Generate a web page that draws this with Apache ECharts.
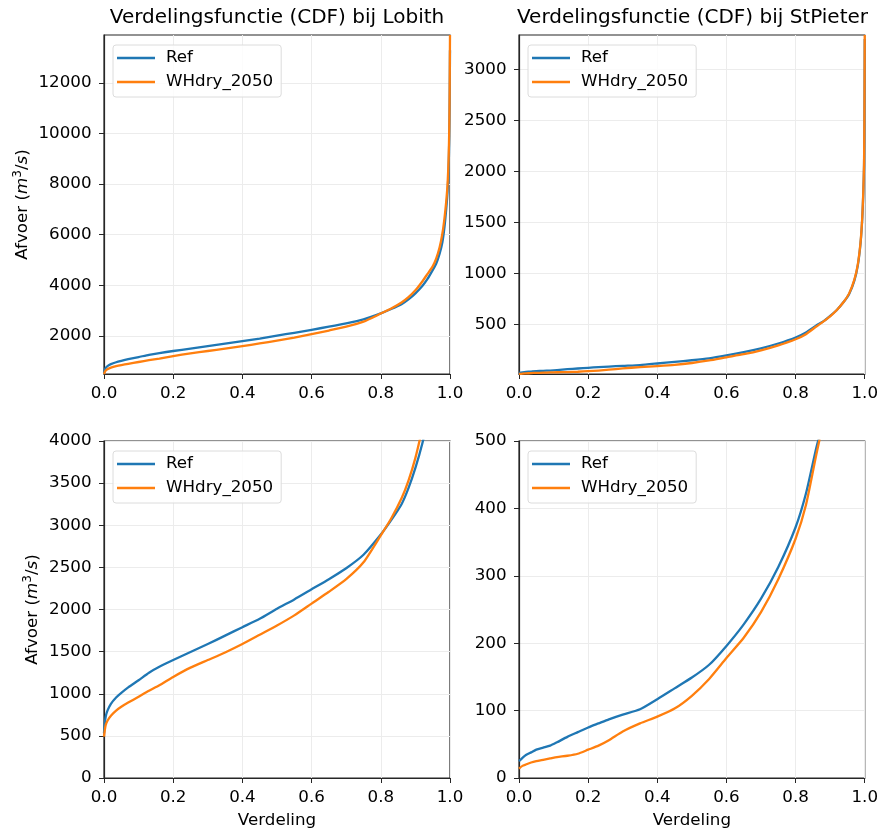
<!DOCTYPE html>
<html>
<head>
<meta charset="utf-8">
<script src="https://cdn.jsdelivr.net/npm/echarts@6/dist/echarts.min.js"></script>
<style>
html,body{margin:0;padding:0;background:#fff;}
#chart{width:881px;height:832px;}
</style>
</head>
<body>
<div id="chart"></div>
<script>
// ---- Data ----
const seriesNames = ['Ref', 'WHdry_2050'];
const titles = ['Verdelingsfunctie (CDF) bij Lobith', 'Verdelingsfunctie (CDF) bij StPieter'];

const lobithP = [0, 0.002, 0.005, 0.01, 0.02, 0.035, 0.05, 0.07, 0.1, 0.13, 0.16, 0.2, 0.25, 0.3, 0.35, 0.4, 0.45, 0.5, 0.55, 0.6, 0.65, 0.7, 0.75, 0.8, 0.83, 0.86, 0.88, 0.9, 0.92, 0.935, 0.95, 0.96, 0.97, 0.978, 0.984, 0.989, 0.993, 0.996, 0.998, 0.999, 1.0];
const lobithRefQ = [533, 640, 730, 800, 880, 955, 1010, 1075, 1160, 1250, 1320, 1400, 1495, 1590, 1690, 1790, 1890, 2010, 2120, 2240, 2360, 2490, 2650, 2890, 3060, 3250, 3440, 3680, 3970, 4250, 4600, 4850, 5250, 5700, 6300, 7000, 7700, 8600, 9900, 11200, 13300];
const lobithWhQ = [490, 560, 630, 680, 740, 800, 845, 895, 965, 1035, 1100, 1200, 1310, 1400, 1490, 1590, 1700, 1810, 1930, 2070, 2210, 2360, 2560, 2880, 3080, 3320, 3530, 3800, 4150, 4450, 4750, 5050, 5500, 6050, 6650, 7300, 8000, 9000, 10300, 11700, 13900];

const stpieterP = [0, 0.01, 0.02, 0.035, 0.05, 0.07, 0.09, 0.11, 0.14, 0.17, 0.2, 0.23, 0.26, 0.3, 0.35, 0.4, 0.45, 0.5, 0.55, 0.6, 0.65, 0.7, 0.75, 0.8, 0.83, 0.86, 0.88, 0.9, 0.92, 0.94, 0.955, 0.97, 0.98, 0.988, 0.993, 0.996, 0.998, 0.999, 1.0];
const stpieterRefQ = [25, 30, 34, 38, 42, 45, 48, 53, 61, 68, 75, 81, 87, 94, 102, 117, 133, 149, 168, 196, 228, 266, 313, 372, 422, 490, 530, 585, 645, 725, 800, 930, 1080, 1300, 1550, 1800, 2050, 2450, 3300];
const stpieterWhQ = [14, 18, 20, 23, 25, 27, 29, 31, 33, 36, 42, 48, 56, 69, 81, 91, 103, 122, 147, 178, 208, 246, 295, 355, 405, 480, 528, 580, 645, 725, 805, 940, 1090, 1310, 1560, 1820, 2080, 2500, 3340];

const xTicks = [0, 0.2, 0.4, 0.6, 0.8, 1.0];
const lobithTopTicks = [2000, 4000, 6000, 8000, 10000, 12000];
const stpieterTopTicks = [500, 1000, 1500, 2000, 2500, 3000];
const lobithBottomTicks = [0, 500, 1000, 1500, 2000, 2500, 3000, 3500, 4000];
const stpieterBottomTicks = [0, 100, 200, 300, 400, 500];

// ---- Build ----
const FONT = 'DejaVu Sans';
const FS = 16.7;
const colors = ['#1f77b4', '#ff7f0e'];
const zip = (p, q) => p.map((v, i) => [v, q[i]]);

const grids = [
  {left: 104, top: 35, width: 346, height: 339},
  {left: 519, top: 35, width: 347, height: 339},
  {left: 104, top: 441, width: 346, height: 337},
  {left: 519, top: 441, width: 347, height: 337}
];

const frameColor = '#262626';
const gridLine = {show: true, lineStyle: {color: '#ececec', width: 1}};

function xAxisFor(i) {
  const bottom = i >= 2;
  return {
    type: 'value', gridIndex: i, min: xTicks[0], max: xTicks[xTicks.length - 1],
    interval: xTicks[1] - xTicks[0],
    name: bottom ? 'Verdeling' : '', nameLocation: 'middle', nameGap: 34,
    nameTextStyle: {fontFamily: FONT, fontSize: FS, color: '#000'},
    axisLine: {show: true, onZero: false, lineStyle: {color: frameColor, width: 1.2}},
    axisTick: {show: true, length: 5, lineStyle: {color: frameColor, width: 1}},
    axisLabel: {fontFamily: FONT, fontSize: FS, color: '#000', margin: 11,
      formatter: v => v.toFixed(1)},
    splitLine: gridLine
  };
}

const yAxisName = 'Afvoer ({i|m}{s|3}{a|/}{i|s}{a|)}';
const yRich = {
  a: {fontFamily: FONT, fontSize: FS, color: '#000'},
  i: {fontFamily: FONT, fontSize: FS, fontStyle: 'italic', color: '#000'},
  s: {fontFamily: FONT, fontSize: 12, color: '#000', padding: [0, 0, 9, 0]}
};

function yAxisFor(i) {
  const left = (i % 2) === 0;
  const base = {
    type: 'value', gridIndex: i,
    name: left ? yAxisName : '', nameLocation: 'middle', nameRotate: 90,
    nameGap: i === 0 ? 71 : 61,
    nameTextStyle: {fontFamily: FONT, fontSize: FS, color: '#000', rich: yRich},
    axisLine: {show: true, onZero: false, lineStyle: {color: frameColor, width: 1.2}},
    axisTick: {show: true, length: 5, lineStyle: {color: frameColor, width: 1}},
    axisLabel: {fontFamily: FONT, fontSize: FS, color: '#000', margin: 12.5,
      formatter: v => String(v)},
    splitLine: gridLine
  };
  if (i === 0 || i === 1) {
    const ticks = i === 0 ? lobithTopTicks : stpieterTopTicks;
    const step = ticks[1] - ticks[0];
    base.min = 'dataMin';
    base.max = 'dataMax';
    base.minInterval = step;
    base.maxInterval = step;
    base.axisLabel.customValues = ticks;
    base.axisTick.customValues = ticks;
  } else {
    const ticks = i === 2 ? lobithBottomTicks : stpieterBottomTicks;
    base.min = ticks[0];
    base.max = ticks[ticks.length - 1];
    base.interval = ticks[1] - ticks[0];
  }
  return base;
}

const panelData = [
  [zip(lobithP, lobithRefQ), zip(lobithP, lobithWhQ)],
  [zip(stpieterP, stpieterRefQ), zip(stpieterP, stpieterWhQ)],
  [zip(lobithP, lobithRefQ), zip(lobithP, lobithWhQ)],
  [zip(stpieterP, stpieterRefQ), zip(stpieterP, stpieterWhQ)]
];

const series = [];
panelData.forEach((pair, i) => {
  pair.forEach((data, k) => {
    series.push({
      type: 'line', name: seriesNames[k], xAxisIndex: i, yAxisIndex: i,
      data: data, symbol: 'none', showSymbol: false, clip: true,
      smooth: 0.2,
      color: colors[k],
      lineStyle: {color: colors[k], width: 2.3, join: 'round'},
      animation: false
    });
  });
});

const legends = grids.map(g => ({
  orient: 'vertical', left: g.left + 9, top: g.top + 10,
  data: seriesNames,
  icon: 'rect',
  backgroundColor: 'rgba(255,255,255,0.85)',
  borderColor: '#dcdcdc', borderWidth: 1, borderRadius: 3,
  padding: [4, 8, 6, 4],
  itemWidth: 38, itemHeight: 2.4, itemGap: 6,
  textStyle: {fontFamily: FONT, fontSize: FS, color: '#000', lineHeight: 18, padding: [0, 0, 0, 6]}
}));

const graphic = titles.map((t, i) => ({
  type: 'text',
  x: grids[i].left + grids[i].width / 2,
  y: 18,
  style: {text: t, fontFamily: FONT, fontSize: 20, fill: '#000', align: 'center', verticalAlign: 'middle'}
}));

const option = {
  backgroundColor: '#fff',
  animation: false,
  grid: grids.map(g => Object.assign({show: true, borderColor: frameColor, borderWidth: 1.2, containLabel: false}, g)),
  xAxis: [0, 1, 2, 3].map(xAxisFor),
  yAxis: [0, 1, 2, 3].map(yAxisFor),
  legend: legends,
  graphic: graphic,
  series: series
};

const chart = echarts.init(document.getElementById('chart'), null, {renderer: 'canvas'});
chart.setOption(option);
</script>
</body>
</html>
